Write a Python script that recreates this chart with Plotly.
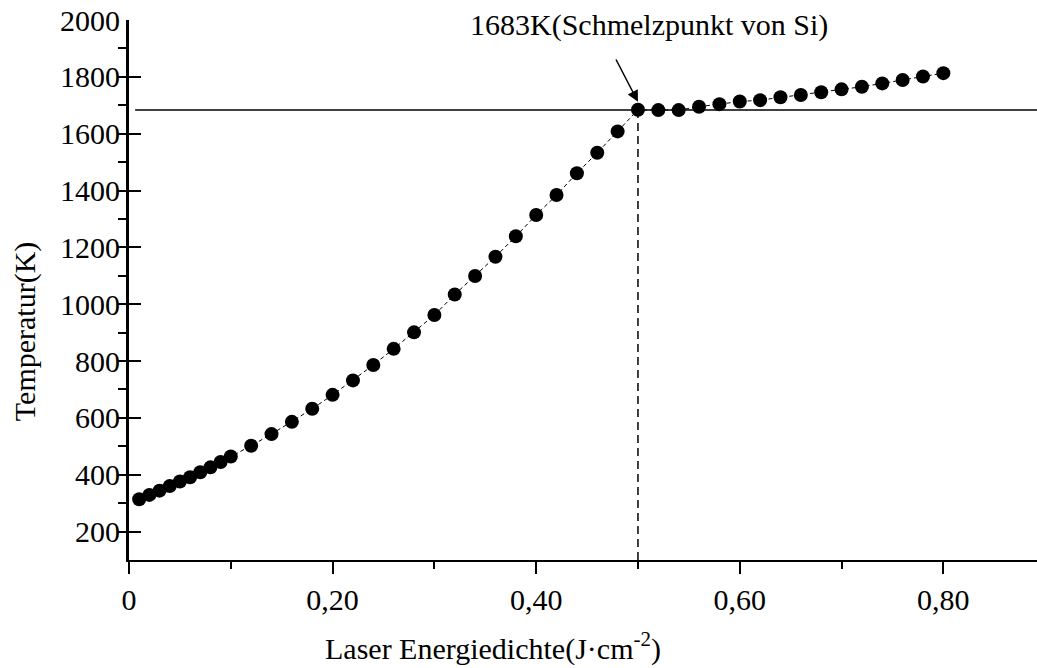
import plotly.graph_objects as go

energy = [0.01, 0.02, 0.03, 0.04, 0.05, 0.06, 0.07, 0.08, 0.09, 0.10,
          0.12, 0.14, 0.16, 0.18, 0.20, 0.22, 0.24, 0.26, 0.28, 0.30,
          0.32, 0.34, 0.36, 0.38, 0.40, 0.42, 0.44, 0.46, 0.48, 0.50,
          0.52, 0.54, 0.56, 0.58, 0.60, 0.62, 0.64, 0.66, 0.68, 0.70,
          0.72, 0.74, 0.76, 0.78, 0.80]
temperature = [314, 329, 344, 360, 376, 391, 409, 426, 445, 464,
               502, 543, 586, 632, 681, 732, 786, 843, 901, 962,
               1034, 1099, 1167, 1239, 1314, 1384, 1461, 1533, 1608, 1684,
               1683, 1683, 1695, 1704, 1713, 1718, 1728, 1736, 1746, 1756,
               1765, 1777, 1789, 1801, 1813]

melt_temp = 1683
melt_energy = 0.50

x_tickvals = [0, 0.2, 0.4, 0.6, 0.8]
x_ticktext = ["0", "0,20", "0,40", "0,60", "0,80"]
y_tickvals = [200, 400, 600, 800, 1000, 1200, 1400, 1600, 1800, 2000]

FONT = "Liberation Serif"
FS = 30
XMAX = 0.892

fig = go.Figure()
fig.add_trace(go.Scatter(
    x=energy, y=temperature, mode="lines+markers",
    line=dict(color="black", width=1, dash="4px,3px"),
    marker=dict(color="black", size=14),
    cliponaxis=False, showlegend=False,
))

# melting point horizontal line
fig.add_shape(type="line", xref="x", yref="y", x0=0.006, x1=XMAX,
              y0=melt_temp, y1=melt_temp, line=dict(color="black", width=1.5))
# vertical dashed line
fig.add_shape(type="line", xref="x", yref="y", x0=melt_energy, x1=melt_energy,
              y0=100, y1=melt_temp, line=dict(color="black", width=1.5, dash="8px,5px"))

fig.add_annotation(x=0.511, y=1982, xref="x", yref="y",
                   text="1683K(Schmelzpunkt von Si)", showarrow=False,
                   font=dict(family=FONT, size=FS, color="black"))
fig.add_annotation(x=melt_energy, y=1712, ax=0.4774, ay=1868,
                   xref="x", yref="y", axref="x", ayref="y",
                   text=" ", font=dict(size=1), showarrow=True,
                   arrowhead=2, arrowsize=1.5,
                   arrowwidth=1.5, arrowcolor="black")

fig.add_annotation(x=0.401, y=-0.160, xref="paper", yref="paper",
                   text="Laser Energiedichte(J·cm<sup>-2</sup>)", showarrow=False,
                   xanchor="center", yanchor="middle",
                   font=dict(family=FONT, size=FS, color="black"))
fig.add_annotation(x=-0.1145, y=0.422, xref="paper", yref="paper",
                   text="Temperatur(K)", showarrow=False, textangle=-90,
                   xanchor="center", yanchor="middle",
                   font=dict(family=FONT, size=FS, color="black"))

fig.update_xaxes(
    range=[0, XMAX], showgrid=False, zeroline=False,
    showline=True, linecolor="black", linewidth=2,
    tickmode="array", tickvals=x_tickvals, ticktext=x_ticktext,
    ticks="outside", ticklen=12, tickwidth=2, tickcolor="black",
    minor=dict(ticks="outside", ticklen=7, tickwidth=2, tickcolor="black",
               dtick=0.1, tick0=0, showgrid=False),
    tickfont=dict(family=FONT, size=FS, color="black"),
)
fig.update_yaxes(
    range=[100, 2000], showgrid=False, zeroline=False,
    showline=True, linecolor="black", linewidth=3,
    tickmode="array", tickvals=y_tickvals,
    ticks="inside", ticklen=12, tickwidth=2, tickcolor="black",
    minor=dict(ticks="outside", ticklen=8, tickwidth=2, tickcolor="black",
               dtick=100, tick0=0, showgrid=False),
    tickfont=dict(family=FONT, size=FS, color="black"),
)

fig.update_layout(
    width=1037, height=668,
    margin=dict(l=129, r=0, t=20, b=108),
    plot_bgcolor="white", paper_bgcolor="white",
    font=dict(family=FONT, size=FS, color="black"),
)

fig.write_html("out.html")
